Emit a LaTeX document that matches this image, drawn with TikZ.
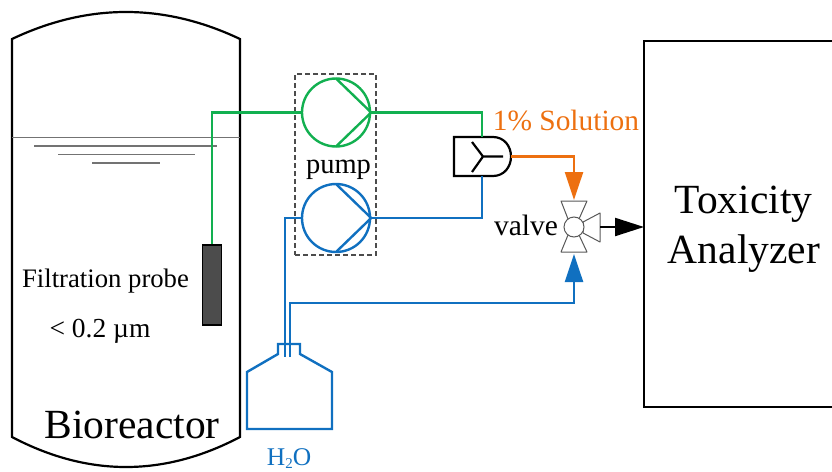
\documentclass[tikz,border=0pt]{standalone}
\usepackage{fontspec}
\setmainfont{Liberation Serif}
\usetikzlibrary{arrows.meta}
\definecolor{cgreen}{HTML}{12B050}
\definecolor{cblue}{HTML}{1070C0}
\definecolor{corange}{HTML}{ED7010}
\newcommand{\fs}[1]{\fontsize{#1}{#1}\selectfont}
\tikzset{
  x=1pt,y=-1pt,
  vessel/.style={draw=black,line width=2.2pt},
  waterline/.style={draw=black!55,line width=1.3pt},
  greenline/.style={draw=cgreen,line width=2.4pt},
  blueline/.style={draw=cblue,line width=2.4pt},
  orangeline/.style={draw=corange,line width=2.4pt},
  pumpcircle/.style={circle,draw,line width=2.4pt,minimum size=68pt,inner sep=0pt},
  lab/.style={anchor=base,inner sep=0pt,text=black},
  valveparts/.style={draw=black!65,line width=1pt,fill=white},
  headO/.style={-{Triangle[length=28pt,width=18pt,fill=corange]}},
  headB/.style={-{Triangle[length=28pt,width=18pt,fill=cblue]}},
  headK/.style={-{Triangle[length=29pt,width=18pt,fill=black]}},
}
\begin{document}
\begin{tikzpicture}
\useasboundingbox (0,0) rectangle (832,471);
% bioreactor
\draw[vessel] (12,437) -- (12,39) .. controls (88,3) and (164,3) .. (240,39) -- (240,437) .. controls (164,477) and (88,477) .. (12,437) -- cycle;
\draw[waterline] (12,137.5) -- (240,137.5);
\draw[waterline] (34,146) -- (217,146);
\draw[waterline] (58,154.5) -- (195,154.5);
\draw[waterline] (92,163) -- (160,163);
% analyzer
\draw[vessel] (832,41) -- (644,41) -- (644,407) -- (832,407);
\coordinate (aninlet) at (644,227);
% pump box
\node[draw=black!70,dash pattern=on 5pt off 3pt,line width=1.1pt,minimum width=81pt,minimum height=181pt,inner sep=0pt] (pumpbox) at (335.5,164.5) {};
% probe
\node[draw=black,fill=black!70,line width=1.2pt,minimum width=19pt,minimum height=80pt,inner sep=0pt] (probe) at (212,285) {};
% pumps
\node[pumpcircle,draw=cgreen] (pumpA) at (336,112.5) {};
\draw[greenline,line join=round] (336,78.5) -- (pumpA.east) -- (336,146.5);
\node[pumpcircle,draw=cblue] (pumpB) at (336,218) {};
\draw[blueline,line join=round] (336,184) -- (pumpB.east) -- (336,252);
% mixer
\node[inner sep=0pt,minimum size=0pt] (mix) at (483,156.5) {};
\coordinate (mixtop) at (482,137);
\coordinate (mixbot) at (482,176);
\coordinate (mixout) at (511,156.5);
\draw[vessel,line join=miter] (493,137) -- (454,137) -- (454,176) -- (493,176) .. controls (504,176) and (511,167) .. (511,156.5) .. controls (511,146) and (504,137) .. (493,137) -- cycle;
\draw[draw=black,line width=2.2pt] (472,142) -- (mix.center) -- (472,172) (mix.center) -- (503,156.5);
% valve
\draw[valveparts,line join=round] (561,201) -- (587,201) -- (579,219) -- (568,219) -- cycle;
\draw[valveparts,line join=round] (561,252) -- (587,252) -- (579,235) -- (568,235) -- cycle;
\draw[valveparts,line join=round] (600,213) -- (600,242) -- (583,233) -- (583,222) -- cycle;
\node[circle,valveparts,minimum size=20pt,inner sep=0pt] (valve) at (574,227) {};
\coordinate (vtop) at (574,200);
\coordinate (vbot) at (574,254);
\coordinate (vright) at (600,227);
% green connectors
\draw[greenline] (probe.north) -- (probe.north |- pumpA.west) -- (pumpA.west);
\draw[greenline] (pumpA.east) -- (mixtop |- pumpA.east) -- (mixtop);
% blue connectors
\draw[blueline] (mixbot) -- (mixbot |- pumpB.east) -- (pumpB.east);
\coordinate (tubeA) at (285,357);
\coordinate (tubeB) at (290,357);
\draw[blueline] (pumpB.west) -- (tubeA |- pumpB.west) -- (tubeA);
\draw[blueline,headB] (tubeB) -- (290,303) -- (574,303) -- (vbot);
\draw[orangeline,headO] (mixout) -- (574,156.5) -- (vtop);
\draw[draw=black,line width=2.2pt,headK] (vright) -- (aninlet);
% bottle
\draw[blueline,line join=miter] (278,354) -- (278,344) -- (300,344) -- (300,354) -- (332,372) -- (332,429) -- (247,429) -- (247,372) -- cycle;
% labels
\node[lab] (bio) at (132,438) {\fs{41.5}Bioreactor};
\node[lab] (tox) at (743.5,213) {\fs{41.5}Toxicity};
\node[lab] (ana) at (744,263) {\fs{41.5}Analyzer};
\node[lab] (filt) at (105.5,287) {\fs{26.7}Filtration probe};
\node[lab] (size) at (100,337) {\fs{27.5}< 0.2 µm};
\node[lab] (pumpl) at (338.5,173) {\fs{28.5}pump};
\node[lab] (valvel) at (526,235) {\fs{29.5}valve};
\node[lab,text=corange] (sol) at (566,130) {\fs{29.4}1\% Solution};
\node[lab,text=cblue] (water) at (289,465.5) {\fs{25.5}H\raisebox{-0.1em}{\fs{15}2}O};
\end{tikzpicture}
\end{document}
